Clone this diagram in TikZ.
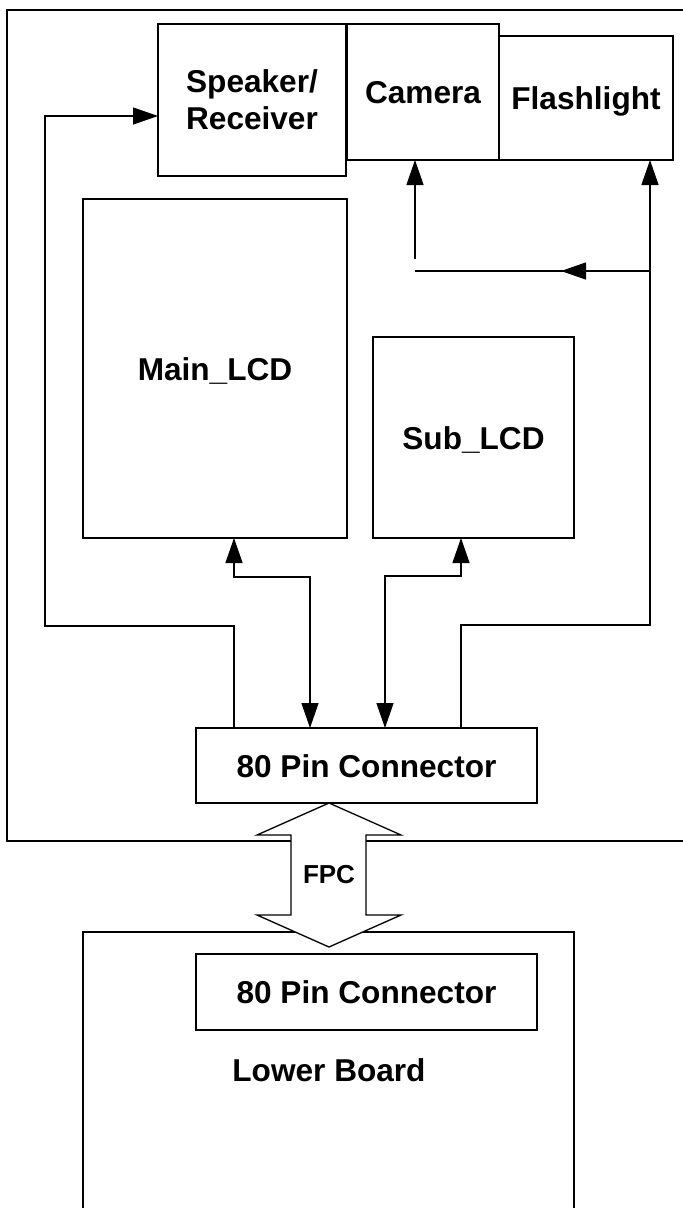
\documentclass[tikz,border=0pt]{standalone}
\usepackage{fontspec}
\setmainfont{Liberation Sans}
\usetikzlibrary{arrows.meta}
\newcommand{\bigfnt}{\fontsize{31.6pt}{37pt}\selectfont\bfseries}
\newcommand{\smallfnt}{\fontsize{26pt}{30pt}\selectfont\bfseries}
\begin{document}
\begin{tikzpicture}[x=1pt,y=-1pt,
  ln/.style={line width=1.3pt, line join=miter},
  box/.style={draw, ln, inner sep=0pt, outer sep=0pt, font=\bigfnt, align=center},
  oneline/.style={text height=23pt, text depth=0pt},
  arr/.style={ln, -{Triangle[length=25pt,width=17pt]}},
  biarr/.style={ln, {Triangle[length=25pt,width=17pt]}-{Triangle[length=25pt,width=17pt]}},
  lbl/.style={inner sep=0pt, font=\bigfnt, text height=23pt, text depth=0pt}
]
\useasboundingbox (0,0) rectangle (683,1208);
\fill[white] (0,0) rectangle (683,1208);

% outer board and lower board
\draw[ln] (690,10) -- (7,10) -- (7,841) -- (690,841);
\draw[ln] (83,1215) -- (83,932) -- (574,932) -- (574,1215);

% boxes
\node[box, minimum width=188pt, minimum height=152pt] (spk) at (252,100) {Speaker/\\Receiver};
\node[box, oneline, minimum width=152pt, minimum height=136pt] (cam) at (423,92) {Camera};
\node[box, oneline, minimum width=174pt, minimum height=124pt] (fl) at (586,98) {Flashlight};
\node[box, oneline, minimum width=264pt, minimum height=339pt] (mainlcd) at (215,368.5) {Main\_LCD};
\node[box, oneline, minimum width=201pt, minimum height=201pt] (sublcd) at (473.5,437.5) {Sub\_LCD};
\node[box, oneline, minimum width=341pt, minimum height=75pt] (conn) at (366.5,765.5) {80 Pin Connector};
\node[box, oneline, minimum width=341pt, minimum height=76pt] (lconn) at (366.5,992) {80 Pin Connector};
\node[lbl] (lb) at (329,1070) {Lower Board};

% connectors
\draw[arr] ([xshift=-132.5pt]conn.north) -- (234,626) -- (45,626) -- (45,116) -- ([yshift=-16pt]spk.west);
\draw[biarr] ([xshift=19pt]mainlcd.south) -- (234,577) -- (310,577) -- ([xshift=-56.5pt]conn.north);
\draw[biarr] ([xshift=-12.5pt]sublcd.south) -- (461,576) -- (385,576) -- ([xshift=18.5pt]conn.north);
\draw[arr] ([xshift=94.5pt]conn.north) -- (461,625) -- (650,625) -- ([xshift=64pt]fl.south);

\coordinate (jn) at (650,271);
\coordinate (cj) at (415,271);
\coordinate (mid) at (561,271);
\coordinate (cv) at (415,259);
\draw[ln] (jn) -- (cj);
\draw[arr] (jn) -- (mid);
\draw[arr] (cv) -- ([xshift=-8pt]cam.south);

% FPC double arrow
\draw[ln, fill=white] (329,803) -- (401,835) -- (366,835) -- (366,915) -- (401,915) -- (329,947)
  -- (257,915) -- (291,915) -- (291,835) -- (257,835) -- cycle;
\node[inner sep=0pt, font=\smallfnt, text height=19pt, text depth=0pt] (fpc) at (329,873.5) {FPC};
\end{tikzpicture}
\end{document}
